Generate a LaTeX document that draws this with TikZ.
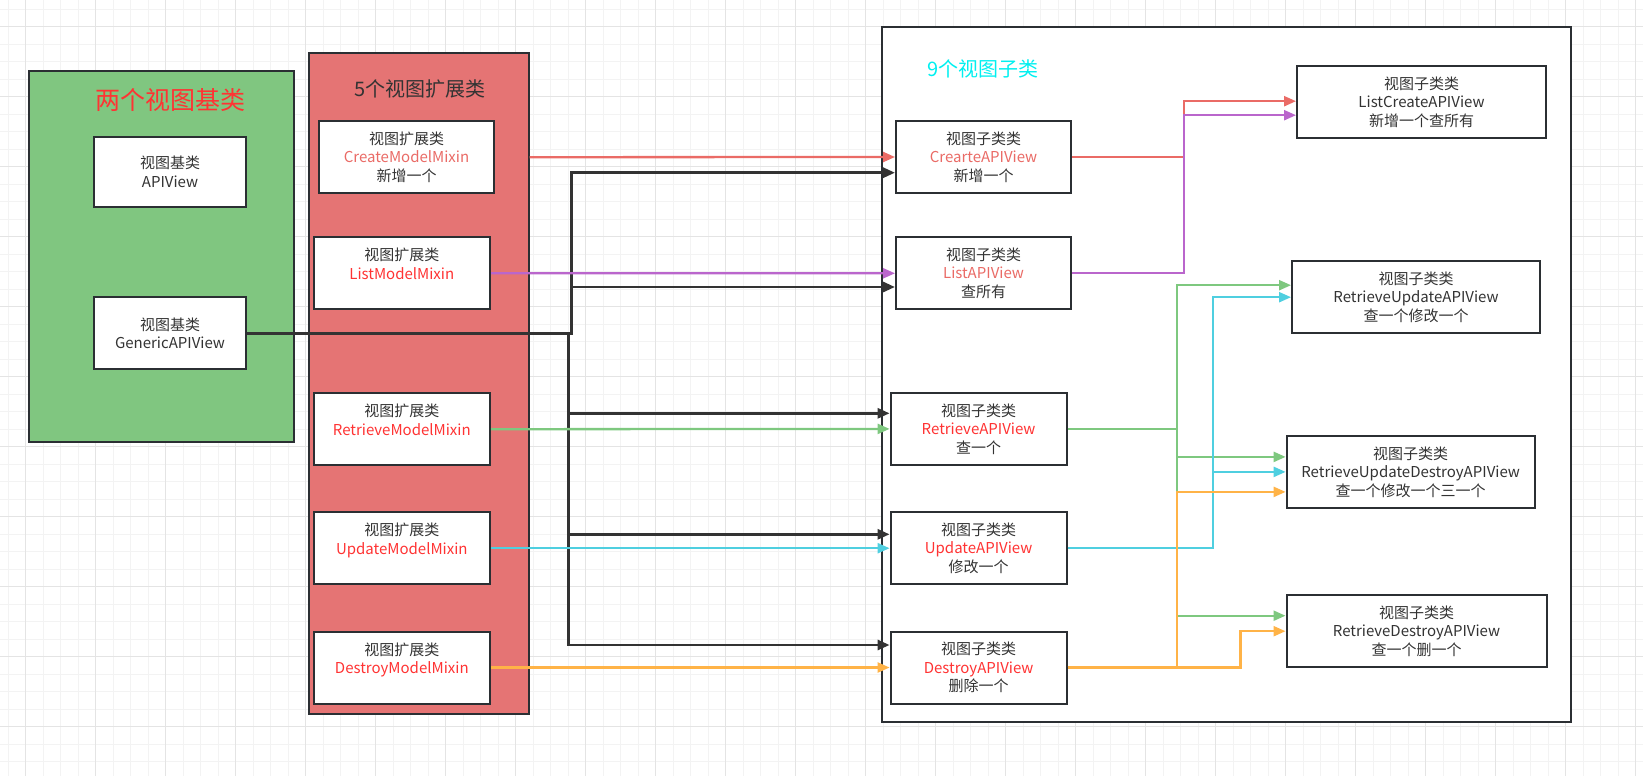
\documentclass[tikz,border=0pt]{standalone}
\usepackage{fontspec}
\setmainfont{Noto Sans CJK SC}
\usetikzlibrary{arrows.meta}
\definecolor{cLine}{HTML}{2B2F33}
\definecolor{cText}{HTML}{333333}
\definecolor{cDark}{HTML}{333333}
\definecolor{cGreen}{HTML}{80C680}
\definecolor{cRedFill}{HTML}{E57474}
\definecolor{cSalmon}{HTML}{EA6B66}
\definecolor{cRed}{HTML}{FF3333}
\definecolor{cCyan}{HTML}{00F0F0}
\definecolor{cPurple}{HTML}{BA66CC}
\definecolor{cLineGreen}{HTML}{7EC87F}
\definecolor{cLineCyan}{HTML}{4FCFE0}
\definecolor{cOrange}{HTML}{FFB347}
\definecolor{cGridMinor}{HTML}{F3F3F3}
\definecolor{cGridMajor}{HTML}{E4E4E4}

\begin{document}
\begin{tikzpicture}[x=1pt, y=-1pt,
    container/.style={rectangle, draw=cLine, line width=2pt, inner sep=0pt},
    classbox/.style={rectangle, draw=cLine, fill=white, line width=2pt, align=center, inner sep=0pt, text=cText, minimum width=175pt, minimum height=72pt, font=\fontsize{15}{18.5}\selectfont},
    titlestyle/.style={inner sep=0pt, font=\fontsize{20}{24}\selectfont},
    arrow/.style={-{Triangle[length=12pt, width=10pt]}, line width=2.3pt},
    basearrow/.style={arrow, cDark, line width=2.8pt},
    gridminor/.style={cGridMinor, line width=1pt},
    gridmajor/.style={cGridMajor, line width=1pt}
]
\useasboundingbox (0,0) rectangle (1643,776);

% Background grid
\foreach \gx in {0,...,93} \draw[gridminor] ({8.2+17.5*\gx},0) -- ++(0,776);
\foreach \gy in {0,...,43} \draw[gridminor] (0,{9.2+17.5*\gy}) -- ++(1643,0);
\foreach \gx in {0,...,23} \draw[gridmajor] ({25.7+70*\gx},0) -- ++(0,776);
\foreach \gy in {0,...,10} \draw[gridmajor] (0,{26.7+70*\gy}) -- ++(1643,0);

% Containers
\node[container, fill=cGreen, minimum width=265.8pt, minimum height=370.5pt] (basebox) at (161.5,256.3) {};
\node[container, fill=cRedFill, minimum width=219.5pt, minimum height=660.2pt] (mixinbox) at (418.8,383.4) {};
\node[container, fill=white, minimum width=688.7pt, minimum height=695pt] (viewbox) at (1226.4,374.8) {};

\node[titlestyle, text=cRed, font=\fontsize{25}{30}\selectfont] (basetitle) at (170.5,100) {两个视图基类};
\node[titlestyle, text=cText] (mixintitle) at (419.6,89.3) {5个视图扩展类};
\node[titlestyle, text=cCyan] (viewtitle) at (983,69.3) {9个视图子类};

% Base classes (left)
\node[classbox, minimum width=152pt, minimum height=69.4pt] (apiview) at (170,172) {视图基类\\APIView};
\node[classbox, minimum width=152pt, minimum height=71.7pt] (generic) at (170,333.2) {视图基类\\GenericAPIView};

% Mixins (middle)
\node[classbox] (createmixin) at (406.5,157.2) {视图扩展类\\{\color{cSalmon}CreateModelMixin}\\新增一个};
\node[classbox, minimum width=176.4pt] (listmixin) at (401.8,273.2) {视图扩展类\\{\color{cRed}ListModelMixin}\\\mbox{}};
\node[classbox, minimum width=176.4pt] (retrievemixin) at (401.8,429.2) {视图扩展类\\{\color{cRed}RetrieveModelMixin}\\\mbox{}};
\node[classbox, minimum width=176.4pt] (updatemixin) at (401.8,548.2) {视图扩展类\\{\color{cRed}UpdateModelMixin}\\\mbox{}};
\node[classbox, minimum width=176.4pt] (destroymixin) at (401.8,667.5) {视图扩展类\\{\color{cRed}DestroyModelMixin}\\\mbox{}};

% Sub views, first column
\node[classbox] (createview) at (983.5,157) {视图子类类\\{\color{cSalmon}CrearteAPIView}\\新增一个};
\node[classbox] (listview) at (983.5,273.3) {视图子类类\\{\color{cSalmon}ListAPIView}\\查所有};
\node[classbox, minimum width=176pt] (retrieveview) at (978.6,428.9) {视图子类类\\{\color{cRed}RetrieveAPIView}\\查一个};
\node[classbox, minimum width=176pt] (updateview) at (978.6,548.2) {视图子类类\\{\color{cRed}UpdateAPIView}\\修改一个};
\node[classbox, minimum width=176pt] (destroyview) at (978.6,667.5) {视图子类类\\{\color{cRed}DestroyAPIView}\\删除一个};

% Sub views, second column
\node[classbox, minimum width=249pt] (listcreate) at (1421.5,102.2) {视图子类类\\ListCreateAPIView\\新增一个查所有};
\node[classbox, minimum width=248pt] (retrieveupdate) at (1416,297.2) {视图子类类\\RetrieveUpdateAPIView\\查一个修改一个};
\node[classbox, minimum width=248pt] (retrieveupdatedestroy) at (1410.6,471.9) {视图子类类\\RetrieveUpdateDestroyAPIView\\查一个修改一个三一个};
\node[classbox, minimum width=260pt] (retrievedestroy) at (1416.5,631.2) {视图子类类\\RetrieveDestroyAPIView\\查一个删一个};

% Joints of the elbow lines
\coordinate (upjoint) at (571.7,333.2);
\coordinate (downjoint) at (568.3,333.2);
\coordinate (createjoint) at (1184,0);
\coordinate (retrievejoint) at (1177.3,0);
\coordinate (updatejoint) at (1212.8,0);
\coordinate (destroyjoint) at (1240.4,0);

% GenericAPIView to the five sub views
\draw[basearrow] (generic.east) -- (upjoint) |- ([yshift=-15.7pt]createview.west);
\draw[basearrow] (upjoint) |- ([yshift=-13.7pt]listview.west);
\draw[basearrow] (downjoint) |- ([yshift=15.6pt]retrieveview.west);
\draw[basearrow] (downjoint) |- ([yshift=13.9pt]updateview.west);
\draw[basearrow] (downjoint) |- ([yshift=22.5pt]destroyview.west);

% Mixins to sub views
\draw[arrow, cSalmon] (createmixin -| mixinbox.east) -- (createview.west);
\draw[arrow, cPurple] (listmixin.east) -- (listview.west);
\draw[arrow, cLineGreen] (retrievemixin.east) -- (retrieveview.west);
\draw[arrow, cLineCyan] (updatemixin.east) -- (updateview.west);
\draw[arrow, cOrange] (destroymixin.east) -- (destroyview.west);

% Sub views to combined sub views
\draw[arrow, cSalmon] (createview.east) -- (createview.east -| createjoint) |- ([yshift=1pt]listcreate.west);
\draw[arrow, cPurple] (listview.east) -- (listview.east -| createjoint) |- ([yshift=-13pt]listcreate.west);
\draw[arrow, cLineGreen] (retrieveview.east) -- (retrieveview.east -| retrievejoint) |- ([yshift=12pt]retrieveupdate.west);
\draw[arrow, cLineGreen] (retrieveview.east -| retrievejoint) |- ([yshift=15pt]retrieveupdatedestroy.west);
\draw[arrow, cLineGreen] (retrieveview.east -| retrievejoint) |- ([yshift=15.5pt]retrievedestroy.west);
\draw[arrow, cLineCyan] (updateview.east) -- (updateview.east -| updatejoint) |- (retrieveupdate.west);
\draw[arrow, cLineCyan] (updateview.east -| updatejoint) |- (retrieveupdatedestroy.west);
\draw[arrow, cOrange] (destroyview.east) -- (destroyview.east -| retrievejoint) |- ([yshift=-20pt]retrieveupdatedestroy.west);
\draw[arrow, cOrange] (destroyview.east) -- (destroyview.east -| destroyjoint) |- (retrievedestroy.west);

\end{tikzpicture}
\end{document}
